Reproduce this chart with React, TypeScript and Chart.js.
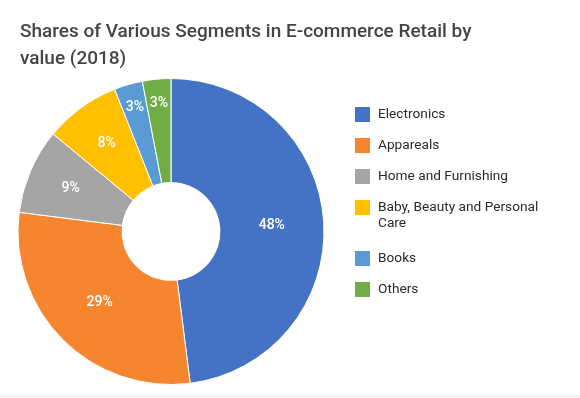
import React, { useEffect, useRef } from "react";
import { Chart, registerables } from "chart.js";

Chart.register(...registerables);

const titleLines = ["Shares of Various Segments in E-commerce Retail by", "value (2018)"];
const categories = ["Electronics", "Appareals", "Home and Furnishing", "Baby, Beauty and Personal Care", "Books", "Others"];
const legendLines = [["Electronics"], ["Appareals"], ["Home and Furnishing"], ["Baby, Beauty and Personal", "Care"], ["Books"], ["Others"]];
const shares = [48, 29, 9, 8, 3, 3];
const colors = ["#4472C4", "#F5862F", "#A5A5A5", "#FFC000", "#5B9BD5", "#70AD47"];

const overlayPlugin = {
  id: "overlay",
  afterDatasetsDraw(chart: any) {
    const ctx = chart.ctx;
    ctx.save();
    // slice labels
    const meta = chart.getDatasetMeta(0);
    ctx.fillStyle = "#ffffff";
    ctx.font = "500 14px Roboto";
    ctx.textAlign = "center";
    ctx.textBaseline = "middle";
    meta.data.forEach((arc: any, i: number) => {
      const { x, y, startAngle, endAngle, innerRadius, outerRadius } = arc.getProps(
        ["x", "y", "startAngle", "endAngle", "innerRadius", "outerRadius"],
        true
      );
      const v = shares[i];
      const f = v >= 20 ? 0.5 : v >= 5 ? 0.58 : 0.77;
      const r = innerRadius + (outerRadius - innerRadius) * f;
      const a = (startAngle + endAngle) / 2;
      ctx.fillText(v + "%", x + Math.cos(a) * r, y + Math.sin(a) * r);
    });
    // title
    ctx.fillStyle = "#444444";
    ctx.font = "500 19px Roboto";
    ctx.textAlign = "left";
    ctx.textBaseline = "middle";
    titleLines.forEach((t, i) => ctx.fillText(t, 20, 32 + i * 27));
    // legend
    let y = 107;
    ctx.font = "13.7px Roboto";
    legendLines.forEach((lines, i) => {
      ctx.fillStyle = colors[i];
      ctx.fillRect(355, y, 15, 15);
      ctx.fillStyle = "#2a2a2a";
      lines.forEach((l, j) => ctx.fillText(l, 378, y + 8 + j * 16));
      y += 31 + (lines.length - 1) * 20;
    });
    ctx.restore();
  },
};

export default function App() {
  const ref = useRef<HTMLCanvasElement>(null);
  useEffect(() => {
    document.body.style.margin = "0";
    const chart = new Chart(ref.current!, {
      type: "doughnut",
      data: {
        labels: categories,
        datasets: [
          {
            data: shares,
            backgroundColor: colors,
            borderColor: "#ffffff",
            borderWidth: 1,
          },
        ],
      },
      options: {
        responsive: false,
        animation: false,
        cutout: "32%",
        layout: { padding: { left: 15, right: 253, top: 78, bottom: 10 } },
        plugins: {
          legend: { display: false },
          title: { display: false },
          tooltip: { enabled: false },
        },
      },
      plugins: [overlayPlugin],
    });
    return () => chart.destroy();
  }, []);
  return (
    <div style={{ width: 580, height: 398, background: "#fff" }}>
      <canvas ref={ref} width={580} height={395} style={{ display: "block" }} />
      <div style={{ height: 3, background: "#f4f4f4" }} />
    </div>
  );
}
